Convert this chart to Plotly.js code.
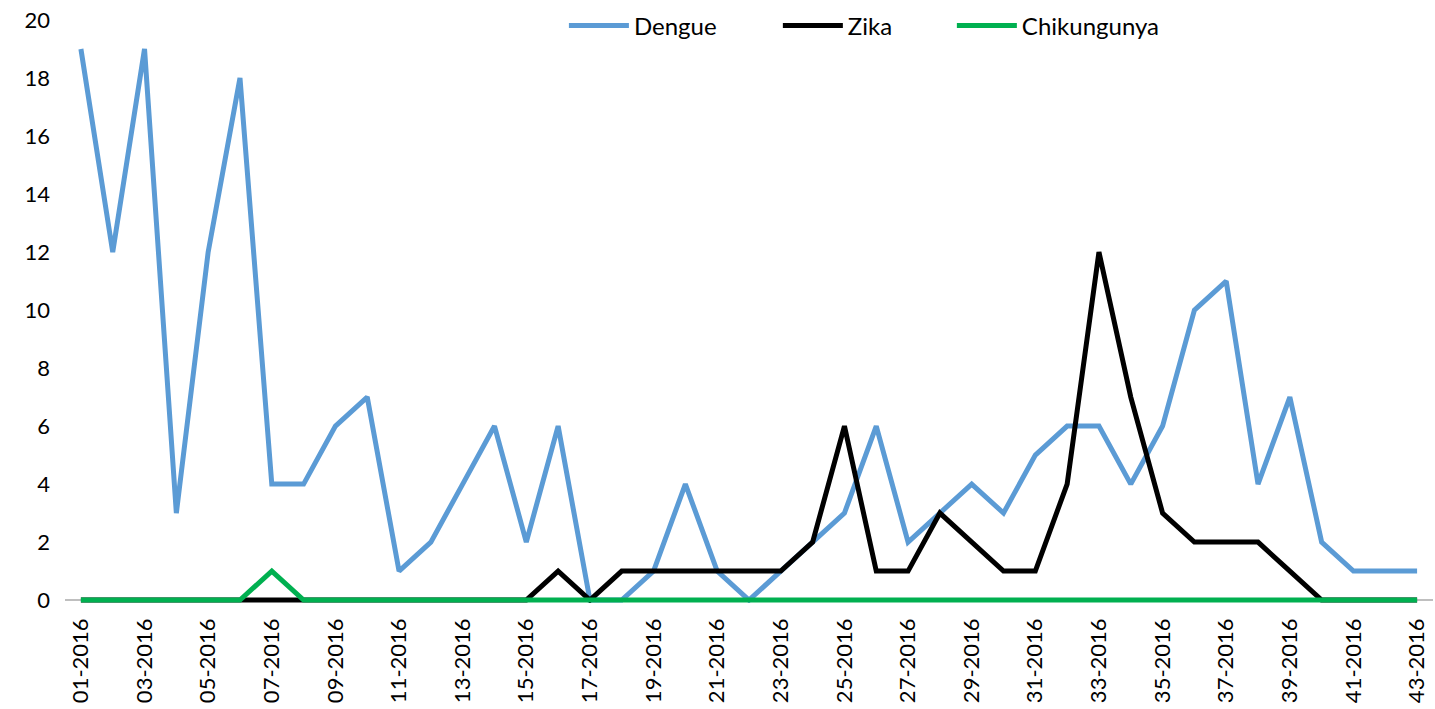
<!DOCTYPE html>
<html>
<head>
<meta charset="utf-8">
<script src="https://cdn.plot.ly/plotly-3.0.1.min.js"></script>
<style>html,body{margin:0;padding:0;background:#fff;}#chart{width:1435px;height:709px;}</style>
</head>
<body>
<div id="chart"></div>
<script>
var weeks = ["01-2016","02-2016","03-2016","04-2016","05-2016","06-2016","07-2016","08-2016","09-2016","10-2016",
"11-2016","12-2016","13-2016","14-2016","15-2016","16-2016","17-2016","18-2016","19-2016","20-2016",
"21-2016","22-2016","23-2016","24-2016","25-2016","26-2016","27-2016","28-2016","29-2016","30-2016",
"31-2016","32-2016","33-2016","34-2016","35-2016","36-2016","37-2016","38-2016","39-2016","40-2016",
"41-2016","42-2016","43-2016"];
var dengue = [19,12,19,3,12,18,4,4,6,7,1,2,4,6,2,6,0,0,1,4,1,0,1,2,3,6,2,3,4,3,5,6,6,4,6,10,11,4,7,2,1,1,1];
var zika   = [0,0,0,0,0,0,0,0,0,0,0,0,0,0,0,1,0,1,1,1,1,1,1,2,6,1,1,3,2,1,1,4,12,7,3,2,2,2,1,0,0,0,0];
var chik   = [0,0,0,0,0,0,1,0,0,0,0,0,0,0,0,0,0,0,0,0,0,0,0,0,0,0,0,0,0,0,0,0,0,0,0,0,0,0,0,0,0,0,0];
var tickLabels = weeks.filter(function(w, i){ return i % 2 === 0; });
var yTicks = [0,2,4,6,8,10,12,14,16,18,20];

var FONT = "Lato, 'Noto Sans', sans-serif";
var traces = [
  {x: weeks, y: dengue, name: "Dengue", type: "scatter", mode: "lines",
   line: {color: "#5B9BD5", width: 5, shape: "linear"}, legend: "legend"},
  {x: weeks, y: zika, name: "Zika", type: "scatter", mode: "lines",
   line: {color: "#000000", width: 5}, legend: "legend2"},
  {x: weeks, y: chik, name: "Chikungunya", type: "scatter", mode: "lines",
   line: {color: "#00B050", width: 5}, legend: "legend3"}
];
function leg(x){
  return {orientation: "h", x: x, xanchor: "left", y: 0.99, yanchor: "middle",
          itemwidth: 60,
          font: {family: FONT, size: 24, color: "#000"}, bgcolor: "rgba(0,0,0,0)"};
}
var layout = {
  width: 1435, height: 709,
  margin: {l: 65, r: 2, t: 20, b: 106, pad: 0},
  paper_bgcolor: "#fff", plot_bgcolor: "#fff",
  font: {family: FONT, color: "#000"},
  showlegend: true,
  legend: leg(0.3867 - 0.022),
  legend2: leg(0.5431 - 0.022),
  legend3: leg(0.6703 - 0.022),
  xaxis: {
    type: "category", range: [-0.5, 42.5],
    tickmode: "array", tickvals: tickLabels, ticktext: tickLabels,
    tickangle: -90, ticks: "", showgrid: false, showline: false, zeroline: false,
    ticklabelstandoff: 10,
    tickfont: {family: FONT, size: 22, color: "#000"}
  },
  yaxis: {
    range: [-0.1, 20], tickmode: "array", tickvals: yTicks,
    showgrid: false, showline: false, zeroline: true, zerolinecolor: "#BFBFBF", zerolinewidth: 1.3,
    ticks: "", ticklabelstandoff: 14,
    tickfont: {family: FONT, size: 22, color: "#000"}
  }
};
Plotly.newPlot("chart", traces, layout, {staticPlot: true, displayModeBar: false});
</script>
</body>
</html>
